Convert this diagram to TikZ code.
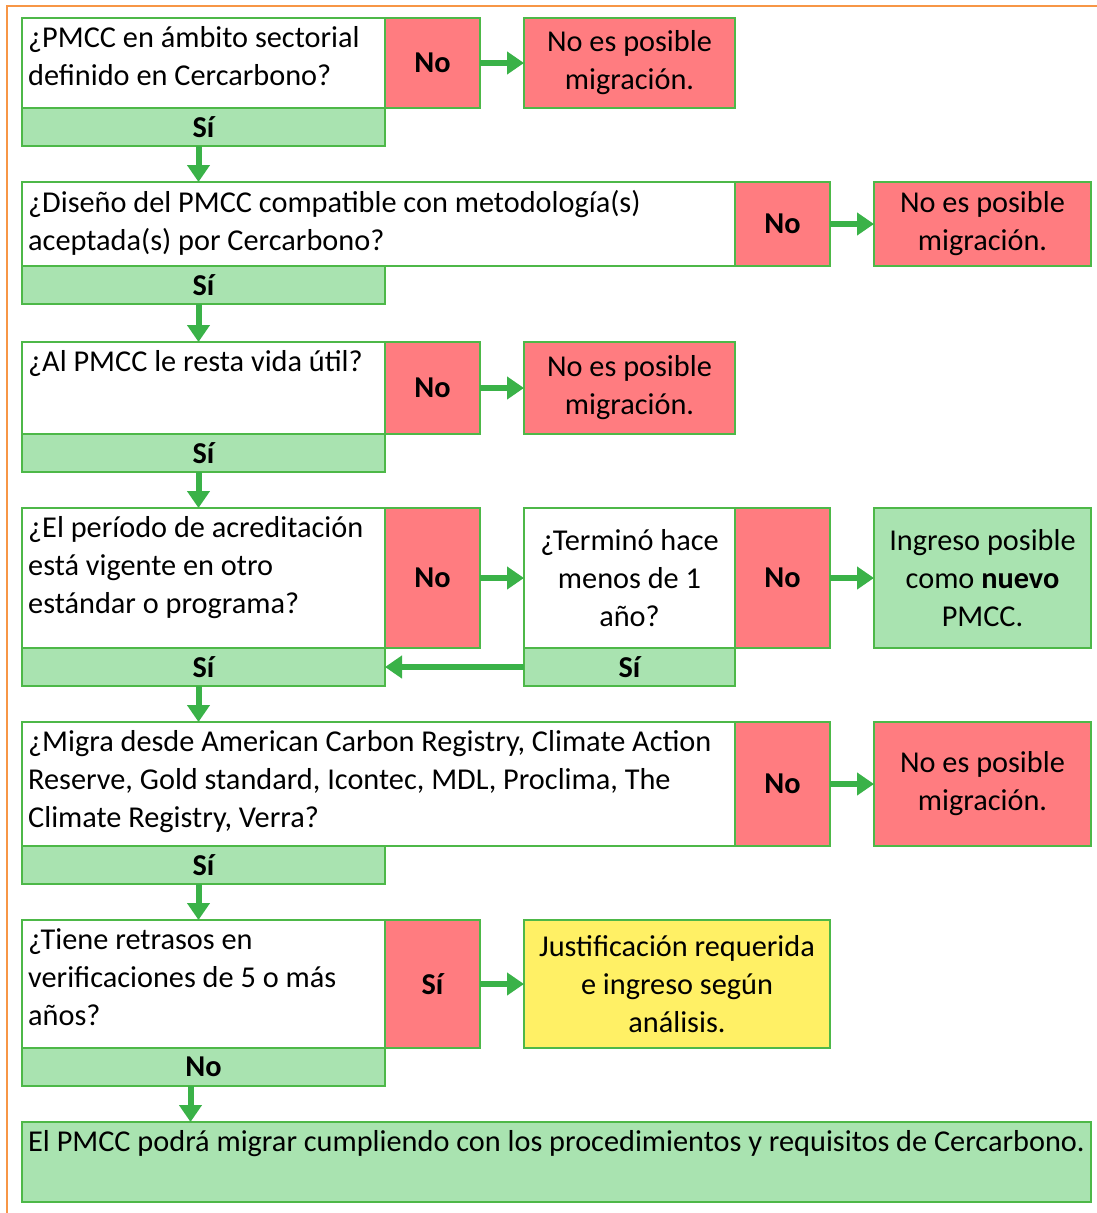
\documentclass[tikz,border=0pt]{standalone}
\usepackage{fontspec}
\setmainfont{Carlito}
\usetikzlibrary{positioning,arrows.meta}

\definecolor{lineGreen}{RGB}{77,184,72}
\definecolor{fillGreen}{RGB}{169,227,176}
\definecolor{fillRed}{RGB}{255,124,128}
\definecolor{fillYellow}{RGB}{255,240,101}
\definecolor{arrowGreen}{RGB}{58,178,72}
\definecolor{frameOrange}{RGB}{247,150,70}

\newcommand{\flowfont}{\fontsize{30.3}{38}\selectfont}

\tikzset{
  box/.style={draw=lineGreen, line width=1.5pt, inner sep=0pt, outer sep=0pt, align=center, font=\flowfont},
  qbox/.style={box, fill=white},
  nobox/.style={box, fill=fillRed, minimum width=95pt, font=\flowfont\bfseries},
  redbox/.style={box, fill=fillRed},
  sibox/.style={box, fill=fillGreen, minimum width=363pt, minimum height=38pt, font=\flowfont\bfseries},
  qtext/.style={anchor=north west, align=left, inner xsep=6pt, inner ysep=8pt, font=\flowfont},
  arr/.style={draw=arrowGreen, line width=6pt, -{Triangle[length=17pt,width=22pt]}},
}

\begin{document}
\begin{tikzpicture}[x=1pt,y=-1pt]
    \useasboundingbox (0,0) rectangle (1097,1213);
    \draw[frameOrange, line width=2pt] (7,1213) -- (7,6) -- (1097,6);

    % sectorial scope
    \node[qbox, minimum width=363pt, minimum height=90pt, anchor=north west] (q1) at (22,18) {};
    \node[qtext] (q1t) at (q1.north west) {¿PMCC en ámbito sectorial\\definido en Cercarbono?};
    \node[nobox, minimum height=90pt, right=0pt of q1] (n1) {No};
    \node[redbox, minimum width=211pt, minimum height=90pt, right=44pt of n1] (r1) {No es posible\\migración.};
    \node[sibox, below right=0pt and 0pt of q1.south west] (s1) {Sí};

    % methodology
    \node[qbox, minimum width=713pt, minimum height=84pt, below right=36pt and 0pt of s1.south west] (q2) {};
    \node[qtext] (q2t) at (q2.north west) {¿Diseño del PMCC compatible con metodología(s)\\aceptada(s) por Cercarbono?};
    \node[nobox, minimum height=84pt, right=0pt of q2] (n2) {No};
    \node[redbox, minimum width=217pt, minimum height=84pt, right=44pt of n2] (r2) {No es posible\\migración.};
    \node[sibox, below right=0pt and 0pt of q2.south west] (s2) {Sí};

    % useful life
    \node[qbox, minimum width=363pt, minimum height=92pt, below right=38pt and 0pt of s2.south west] (q3) {};
    \node[qtext] (q3t) at (q3.north west) {¿Al PMCC le resta vida útil?};
    \node[nobox, minimum height=92pt, right=0pt of q3] (n3) {No};
    \node[redbox, minimum width=211pt, minimum height=92pt, right=44pt of n3] (r3) {No es posible\\migración.};
    \node[sibox, below right=0pt and 0pt of q3.south west] (s3) {Sí};

    % crediting period
    \node[qbox, minimum width=363pt, minimum height=140pt, below right=36pt and 0pt of s3.south west] (q4) {};
    \node[qtext] (q4t) at (q4.north west) {¿El período de acreditación\\está vigente en otro\\estándar o programa?};
    \node[nobox, minimum height=140pt, right=0pt of q4] (n4) {No};
    \node[qbox, minimum width=211pt, minimum height=140pt, right=44pt of n4] (t4) {¿Terminó hace\\menos de 1\\año?};
    \node[nobox, minimum height=140pt, right=0pt of t4] (n4b) {No};
    \node[box, fill=fillGreen, minimum width=217pt, minimum height=140pt, right=44pt of n4b] (r4) {Ingreso posible\\como \textbf{nuevo}\\PMCC.};
    \node[sibox, below right=0pt and 0pt of q4.south west] (s4) {Sí};
    \node[sibox, minimum width=211pt, below right=0pt and 0pt of t4.south west] (s4b) {Sí};

    % origin standard
    \node[qbox, minimum width=713pt, minimum height=124pt, below right=36pt and 0pt of s4.south west] (q5) {};
    \node[qtext] (q5t) at (q5.north west) {¿Migra desde American Carbon Registry, Climate Action\\Reserve, Gold standard, Icontec, MDL, Proclima, The\\Climate Registry, Verra?};
    \node[nobox, minimum height=124pt, right=0pt of q5] (n5) {No};
    \node[redbox, minimum width=217pt, minimum height=124pt, right=44pt of n5] (r5) {No es posible\\migración.};
    \node[sibox, below right=0pt and 0pt of q5.south west] (s5) {Sí};

    % delays
    \node[qbox, minimum width=363pt, minimum height=128pt, below right=36pt and 0pt of s5.south west] (q6) {};
    \node[qtext] (q6t) at (q6.north west) {¿Tiene retrasos en\\verificaciones de 5 o más\\años?};
    \node[nobox, minimum height=128pt, right=0pt of q6] (y6) {Sí};
    \node[box, fill=fillYellow, minimum width=306pt, minimum height=128pt, right=44pt of y6] (r6) {Justificación requerida\\e ingreso según\\análisis.};
    \node[sibox, below right=0pt and 0pt of q6.south west] (s6) {No};

    % result
    \node[box, fill=fillGreen, minimum width=1069pt, minimum height=80pt, below right=36pt and 0pt of s6.south west] (fin) {};
    \node[qtext] (fint) at (fin.north west) {El PMCC podrá migrar cumpliendo con los procedimientos y requisitos de Cercarbono.};

    \draw[arr] (n1) -- (r1);
    \draw[arr] (n2) -- (r2);
    \draw[arr] (n3) -- (r3);
    \draw[arr] (n4) -- (t4);
    \draw[arr] (n4b) -- (r4);
    \draw[arr] (s4b) -- (s4);
    \draw[arr] (n5) -- (r5);
    \draw[arr] (y6) -- (r6);

    \draw[arr] ([xshift=-5pt]s1.south) -- ([xshift=-5pt]s1.south |- q2.north);
    \draw[arr] ([xshift=-5pt]s2.south) -- ([xshift=-5pt]s2.south |- q3.north);
    \draw[arr] ([xshift=-5pt]s3.south) -- ([xshift=-5pt]s3.south |- q4.north);
    \draw[arr] ([xshift=-5pt]s4.south) -- ([xshift=-5pt]s4.south |- q5.north);
    \draw[arr] ([xshift=-5pt]s5.south) -- ([xshift=-5pt]s5.south |- q6.north);
    \draw[arr] ([xshift=-13pt]s6.south) -- ([xshift=-13pt]s6.south |- fin.north);
\end{tikzpicture}
\end{document}
